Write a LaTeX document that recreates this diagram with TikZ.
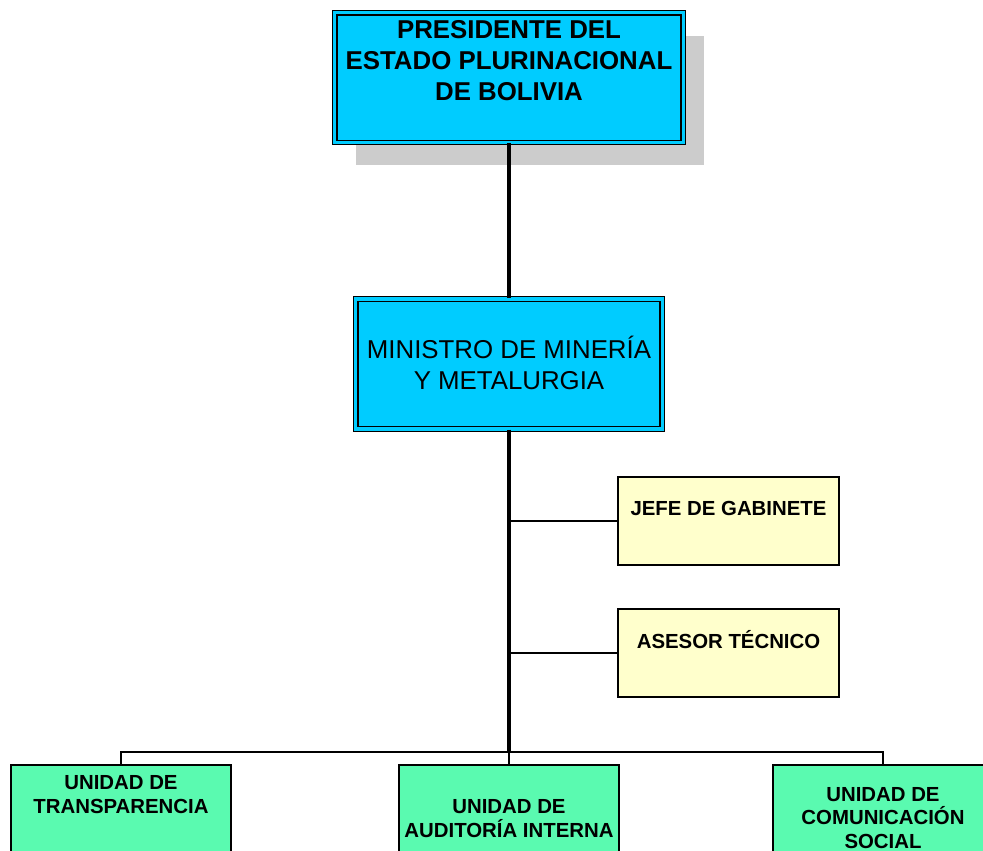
\documentclass[tikz,border=0pt]{standalone}
\usepackage{fontspec}
\setmainfont{Liberation Sans}
\usetikzlibrary{shadows}

\definecolor{boxcyan}{RGB}{0,204,255}
\definecolor{boxyellow}{RGB}{255,255,204}
\definecolor{boxgreen}{RGB}{90,250,176}
\definecolor{shadowgray}{RGB}{204,204,204}

\begin{document}
\begin{tikzpicture}[
  x=0.02cm, y=-0.02cm,
  bigbox/.style={rectangle, draw, fill=boxcyan, line width=0.8pt,
    double=boxcyan, double distance=1.8pt, inner sep=0pt},
  sidebox/.style={rectangle, draw, fill=boxyellow, line width=0.8pt,
    minimum width=4.42cm, minimum height=1.76cm, inner sep=0pt},
  unitbox/.style={rectangle, draw, fill=boxgreen, line width=1pt,
    minimum width=4.4cm, minimum height=2.6cm, anchor=north, inner sep=0pt},
  bigtext/.style={align=center, inner sep=0pt, font=\fontsize{14.7}{17.6}\selectfont},
  smalltext/.style={align=center, inner sep=0pt, font=\fontsize{11.6}{13.6}\selectfont\bfseries},
  mainline/.style={line width=2.2pt},
  branch/.style={line width=1.2pt}
]
\clip (0,0) rectangle (983,850);

% Top levels
\node[bigbox, minimum width=6.98cm, minimum height=2.6cm,
  drop shadow={shadow xshift=0.42cm, shadow yshift=-0.46cm, fill=shadowgray, opacity=1}]
  (pres) at (509,77.5) {};
\node[bigtext, font=\fontsize{14.7}{17.6}\selectfont\bfseries] (pres-t) at (509,61)
  {PRESIDENTE DEL\\ESTADO PLURINACIONAL\\DE BOLIVIA};

\node[bigbox, minimum width=6.14cm, minimum height=2.6cm] (min) at (509,364) {};
\node[bigtext] (min-t) at (509,363) {MINISTRO DE MINERÍA\\Y METALURGIA};

% Staff
\node[sidebox] (jefe) at (728.5,521) {};
\node[smalltext] (jefe-t) at (728.5,508) {JEFE DE GABINETE};

\node[sidebox] (asesor) at (728.5,653) {};
\node[smalltext] (asesor-t) at (728.5,640) {ASESOR TÉCNICO};

% Units
\node[unitbox] (transp) at (121,764) {};
\node[smalltext] (transp-t) at (121,794.5) {UNIDAD DE\\TRANSPARENCIA};

\node[unitbox] (audit) at (509,764) {};
\node[smalltext] (audit-t) at (509,818.5) {UNIDAD DE\\AUDITORÍA INTERNA};

\node[unitbox] (comun) at (883,764) {};
\node[smalltext] (comun-t) at (883,818) {UNIDAD DE\\COMUNICACIÓN\\SOCIAL};

% Connectors
\coordinate (bus) at (509,752);
\draw[line width=2.8pt] (pres.south) -- (min.north);
\draw[mainline] (min.south) -- (bus);
\draw[branch] (jefe.west) -- (jefe.west -| min.south);
\draw[branch] (asesor.west) -- (asesor.west -| min.south);
\draw[line width=1.6pt] (transp.north) |- (bus) -| (comun.north);
\draw[line width=1.6pt] (bus) -- (audit.north);

\end{tikzpicture}
\end{document}
